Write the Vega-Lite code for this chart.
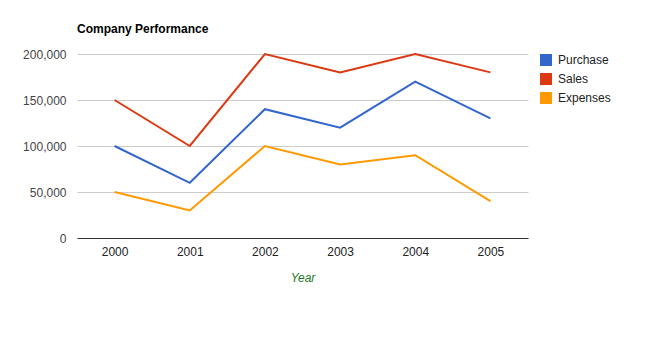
{
  "$schema": "https://vega.github.io/schema/vega-lite/v6.json",
  "autosize": "none",
  "width": 451,
  "height": 184,
  "padding": {"left": 77, "top": 54, "right": 123, "bottom": 121},
  "background": "white",
  "title": {
    "text": "Company Performance",
    "anchor": "start",
    "font": "Liberation Sans",
    "fontSize": 12,
    "fontWeight": "bold",
    "color": "#000000",
    "offset": 12,
    "frame": "group"
  },
  "data": {
    "values": [
      {"year": "2000", "series": "Purchase", "value": 100000},
      {"year": "2001", "series": "Purchase", "value": 60000},
      {"year": "2002", "series": "Purchase", "value": 140000},
      {"year": "2003", "series": "Purchase", "value": 120000},
      {"year": "2004", "series": "Purchase", "value": 170000},
      {"year": "2005", "series": "Purchase", "value": 130000},
      {"year": "2000", "series": "Sales", "value": 150000},
      {"year": "2001", "series": "Sales", "value": 100000},
      {"year": "2002", "series": "Sales", "value": 200000},
      {"year": "2003", "series": "Sales", "value": 180000},
      {"year": "2004", "series": "Sales", "value": 200000},
      {"year": "2005", "series": "Sales", "value": 180000},
      {"year": "2000", "series": "Expenses", "value": 50000},
      {"year": "2001", "series": "Expenses", "value": 30000},
      {"year": "2002", "series": "Expenses", "value": 100000},
      {"year": "2003", "series": "Expenses", "value": 80000},
      {"year": "2004", "series": "Expenses", "value": 90000},
      {"year": "2005", "series": "Expenses", "value": 40000}
    ]
  },
  "mark": {"type": "line", "strokeWidth": 2},
  "encoding": {
    "x": {
      "field": "year",
      "type": "ordinal",
      "title": "Year",
      "scale": {"type": "point", "padding": 0.5},
      "axis": {
        "labelAngle": 0,
        "labelFont": "Liberation Sans",
        "labelFontSize": 12,
        "labelColor": "#222222",
        "labelPadding": 8,
        "ticks": false,
        "domainColor": "#333333",
        "domainWidth": 1,
        "grid": false,
        "titleFont": "Liberation Sans",
        "titleFontSize": 12,
        "titleFontStyle": "italic",
        "titleFontWeight": "normal",
        "titleColor": "#22771f",
        "titlePadding": 15
      }
    },
    "y": {
      "field": "value",
      "type": "quantitative",
      "title": null,
      "scale": {"domain": [0, 200000]},
      "axis": {
        "values": [0, 50000, 100000, 150000, 200000],
        "format": ",d",
        "labelFont": "Liberation Sans",
        "labelFontSize": 12,
        "labelColor": "#444444",
        "labelPadding": 11,
        "ticks": false,
        "domain": false,
        "gridColor": "#cccccc",
        "gridWidth": 1
      }
    },
    "color": {
      "field": "series",
      "type": "nominal",
      "sort": ["Purchase", "Sales", "Expenses"],
      "scale": {
        "domain": ["Purchase", "Sales", "Expenses"],
        "range": ["#3366cc", "#dc3912", "#ff9900"]
      },
      "legend": {
        "title": null,
        "orient": "none",
        "legendX": 463,
        "legendY": 0,
        "symbolType": "square",
        "symbolSize": 144,
        "symbolStrokeWidth": 0,
        "symbolOpacity": 1,
        "labelFont": "Liberation Sans",
        "labelFontSize": 12,
        "labelColor": "#222222",
        "labelOffset": 6,
        "rowPadding": 7,
        "encode": {
          "symbols": {
            "update": {
              "fill": {"scale": "color", "field": "value"},
              "fillOpacity": {"value": 1}
            }
          }
        }
      }
    }
  },
  "config": {
    "view": {"stroke": null}
  }
}
